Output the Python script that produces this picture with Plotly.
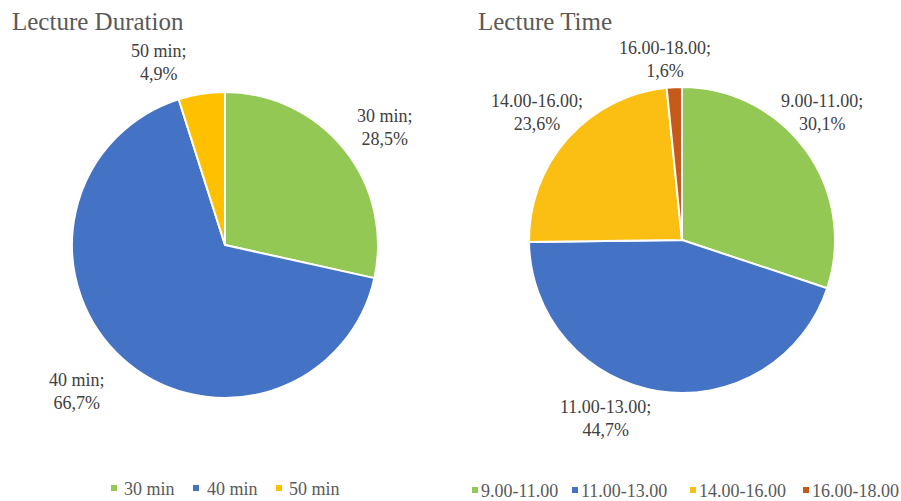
import plotly.graph_objects as go

W, H = 901, 501

# ---- data ----
dur_labels = ["30 min", "40 min", "50 min"]
dur_values = [28.5, 66.7, 4.9]
dur_text = ["28,5%", "66,7%", "4,9%"]

time_labels = ["9.00-11.00", "11.00-13.00", "14.00-16.00", "16.00-18.00"]
time_values = [30.1, 44.7, 23.6, 1.6]
time_text = ["30,1%", "44,7%", "23,6%", "1,6%"]

titles = ["Lecture Duration", "Lecture Time"]

# ---- styles / layout ----
dur_colors = ["#92C853", "#4472C4", "#FFC000"]
time_colors = ["#92C853", "#4472C4", "#FBBF14", "#C55A1A"]

FONT = "Liberation Serif"
LBL = "#404040"
GRAY = "#595959"

def px_dom(x0, x1, ytop, ybot):
    return dict(x=[x0 / W, x1 / W], y=[(H - ybot) / H, (H - ytop) / H])

def px(x, y):
    return x / W, (H - y) / H

fig = go.Figure()
fig.add_trace(go.Pie(
    labels=dur_labels, values=dur_values, sort=False, direction="clockwise",
    rotation=0, marker=dict(colors=dur_colors, line=dict(color="white", width=2)),
    textinfo="none", hoverinfo="label+percent", domain=px_dom(72, 378, 92, 398),
    showlegend=False,
))
fig.add_trace(go.Pie(
    labels=time_labels, values=time_values, sort=False, direction="clockwise",
    rotation=0, marker=dict(colors=time_colors, line=dict(color="white", width=2)),
    textinfo="none", hoverinfo="label+percent", domain=px_dom(529, 835, 87, 393),
    showlegend=False,
))

# outside data labels: pixel centres of the label blocks
dur_pos = [(385, 127), (77, 391), (159, 63)]
time_pos = [(822, 113), (605, 418), (537, 113), (665, 60)]

ann = []
shapes = []
for labs, txts, poss in ((dur_labels, dur_text, dur_pos), (time_labels, time_text, time_pos)):
    for lab, t, (x, y) in zip(labs, txts, poss):
        ax, ay = px(x, y)
        ann.append(dict(x=ax, y=ay, xref="paper", yref="paper",
                        text=f"{lab};<br>{t}", showarrow=False, align="center",
                        xanchor="center", yanchor="middle",
                        font=dict(family=FONT, size=18, color=LBL)))

# titles
for t, (x, y) in zip(titles, [(10, 21), (476, 21)]):
    ax, ay = px(x, y)
    ann.append(dict(x=ax, y=ay, xref="paper", yref="paper", xanchor="left",
                    yanchor="middle", text=t, showarrow=False,
                    font=dict(family=FONT, size=25, color=GRAY)))

# legends (marker left x, text left x, vertical centre)
leg1_marker_x = [111, 193, 276]
leg1_text_x = [122, 205, 287]
leg1_y = 488
leg2_marker_x = [472, 572, 690, 803]
leg2_text_x = [479, 579, 697, 810]
leg2_y = 490

for labs, cols, mxs, txs, ly in ((dur_labels, dur_colors, leg1_marker_x, leg1_text_x, leg1_y),
                                 (time_labels, time_colors, leg2_marker_x, leg2_text_x, leg2_y)):
    for lab, c, mx, tx in zip(labs, cols, mxs, txs):
        x0, y0 = px(mx, ly + 3)
        x1, y1 = px(mx + 6, ly - 3)
        shapes.append(dict(type="rect", xref="paper", yref="paper",
                           x0=x0, x1=x1, y0=y0, y1=y1,
                           fillcolor=c, line=dict(width=0)))
        ax, ay = px(tx, ly + 1)
        ann.append(dict(x=ax, y=ay, xref="paper", yref="paper", xanchor="left",
                        yanchor="middle", text=lab, showarrow=False,
                        font=dict(family=FONT, size=18, color=GRAY)))

fig.update_layout(
    width=W, height=H, margin=dict(l=0, r=0, t=0, b=0, autoexpand=False),
    paper_bgcolor="white", plot_bgcolor="white",
    annotations=ann, shapes=shapes, showlegend=False,
)
fig.write_html("out.html")
